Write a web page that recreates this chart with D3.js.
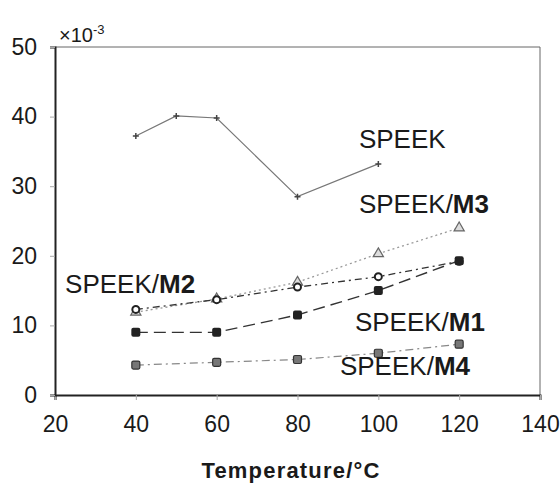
<!DOCTYPE html>
<html>
<head>
<meta charset="utf-8">
<script src="https://cdn.jsdelivr.net/npm/d3@7"></script>
<style>
  body { margin: 0; background: #fff; }
  text { font-family: "Liberation Sans", Arial, sans-serif; fill: #1a1a1a; }
</style>
</head>
<body>
<div id="chart"></div>
<script>
// Data (values in units of 10^-3)
const temps = [40, 60, 80, 100, 120];
const speekTemps = [40, 50, 60, 80, 100];
const speek = [37.2, 40.1, 39.8, 28.5, 33.2];
const m1 = [9.0, 9.0, 11.5, 15.0, 19.3];
const m2 = [12.3, 13.7, 15.5, 17.0, 19.2];
const m3 = [11.9, 13.8, 16.2, 20.3, 24.0];
const m4 = [4.3, 4.7, 5.1, 6.0, 7.3];
const xTicks = [20, 40, 60, 80, 100, 120, 140];
const yTicks = [0, 10, 20, 30, 40, 50];

// annotation anchors in data units
const labels = [
  { main: "SPEEK", bold: "", x: 95.2, y: 35.5 },
  { main: "SPEEK/", bold: "M3", x: 95.2, y: 26.1 },
  { main: "SPEEK/", bold: "M2", x: 22.5, y: 14.6 },
  { main: "SPEEK/", bold: "M1", x: 94.2, y: 9.2 },
  { main: "SPEEK/", bold: "M4", x: 90.5, y: 2.9 }
];

const width = 560, height = 483;
const margin = { top: 47, right: 20, bottom: 88, left: 55 };

const svg = d3.select("#chart").append("svg")
  .attr("width", width)
  .attr("height", height);

const x = d3.scaleLinear().domain([20, 140]).range([margin.left, width - margin.right]);
const y = d3.scaleLinear().domain([0, 50]).range([height - margin.bottom, margin.top]);

// frame: top and right thin grey
svg.append("path")
  .attr("d", `M${x(20)},${y(50)}H${x(140)}V${y(0)}`)
  .attr("fill", "none")
  .attr("stroke", "#666")
  .attr("stroke-width", 1);

// axes
const xAxis = svg.append("g")
  .attr("transform", `translate(0,${y(0)})`)
  .call(d3.axisBottom(x).tickValues(xTicks).tickSize(5).tickPadding(16));
xAxis.select(".domain").attr("stroke", "#222").attr("stroke-width", 2);
xAxis.selectAll(".tick line").attr("stroke", "#aaa");
xAxis.selectAll(".tick text")
  .attr("font-size", 23)
  .attr("fill", "#1a1a1a");

const yAxis = svg.append("g")
  .attr("transform", `translate(${x(20)},0)`)
  .call(d3.axisLeft(y).tickValues(yTicks).tickSize(5).tickPadding(13));
yAxis.select(".domain").attr("stroke", "#222").attr("stroke-width", 2);
yAxis.selectAll(".tick line").attr("stroke", "#aaa");
yAxis.selectAll(".tick text")
  .attr("font-size", 23)
  .attr("fill", "#1a1a1a");

// x10^-3 multiplier
const mult = svg.append("text")
  .attr("x", x(20) + 4)
  .attr("y", y(50) - 5)
  .attr("font-size", 20);
mult.append("tspan").text("×10");
mult.append("tspan").attr("dy", -8).attr("font-size", 13).text("-3");

// axis title
svg.append("text")
  .attr("x", 291)
  .attr("y", 478)
  .attr("text-anchor", "middle")
  .attr("font-size", 22)
  .attr("font-weight", "bold")
  .attr("letter-spacing", 1.2)
  .text("Temperature/°C");

const line = d3.line().x(d => x(d[0])).y(d => y(d[1]));

const series = [
  { xs: speekTemps, ys: speek, stroke: "#777", dash: "none", width: 1.2, marker: "plus" },
  { xs: temps, ys: m3, stroke: "#999", dash: "2,3", width: 1.3, marker: "triangle" },
  { xs: temps, ys: m2, stroke: "#333", dash: "7,4,2,4", width: 1.3, marker: "circle" },
  { xs: temps, ys: m1, stroke: "#333", dash: "12,6", width: 1.4, marker: "square" },
  { xs: temps, ys: m4, stroke: "#888", dash: "8,4,2,4", width: 1.2, marker: "greysquare" }
];

series.forEach(s => {
  const pts = s.xs.map((t, i) => [t, s.ys[i]]);
  svg.append("path")
    .datum(pts)
    .attr("d", line)
    .attr("fill", "none")
    .attr("stroke", s.stroke)
    .attr("stroke-width", s.width)
    .attr("stroke-dasharray", s.dash);

  const g = svg.append("g");
  pts.forEach(p => {
    const cx = x(p[0]), cy = y(p[1]);
    if (s.marker === "plus") {
      g.append("path")
        .attr("d", `M${cx - 3},${cy}H${cx + 3}M${cx},${cy - 3}V${cy + 3}`)
        .attr("stroke", "#444").attr("stroke-width", 1.5);
    } else if (s.marker === "triangle") {
      g.append("path")
        .attr("d", d3.symbol(d3.symbolTriangle, 45)())
        .attr("transform", `translate(${cx},${cy})`)
        .attr("fill", "#ddd").attr("stroke", "#666").attr("stroke-width", 1.2);
    } else if (s.marker === "circle") {
      g.append("circle")
        .attr("cx", cx).attr("cy", cy).attr("r", 3.5)
        .attr("fill", "#fff").attr("stroke", "#222").attr("stroke-width", 2);
    } else if (s.marker === "square") {
      g.append("rect")
        .attr("x", cx - 4.5).attr("y", cy - 4.5)
        .attr("width", 9).attr("height", 9).attr("rx", 2)
        .attr("fill", "#222");
    } else {
      g.append("rect")
        .attr("x", cx - 4).attr("y", cy - 4)
        .attr("width", 8).attr("height", 8).attr("rx", 1.5)
        .attr("fill", "#777").attr("stroke", "#333").attr("stroke-width", 1.2);
    }
  });
});

// annotations
labels.forEach(l => {
  const t = svg.append("text")
    .attr("x", x(l.x))
    .attr("y", y(l.y))
    .attr("font-size", 26);
  t.append("tspan").text(l.main);
  if (l.bold) t.append("tspan").attr("font-weight", "bold").text(l.bold);
});
</script>
</body>
</html>
